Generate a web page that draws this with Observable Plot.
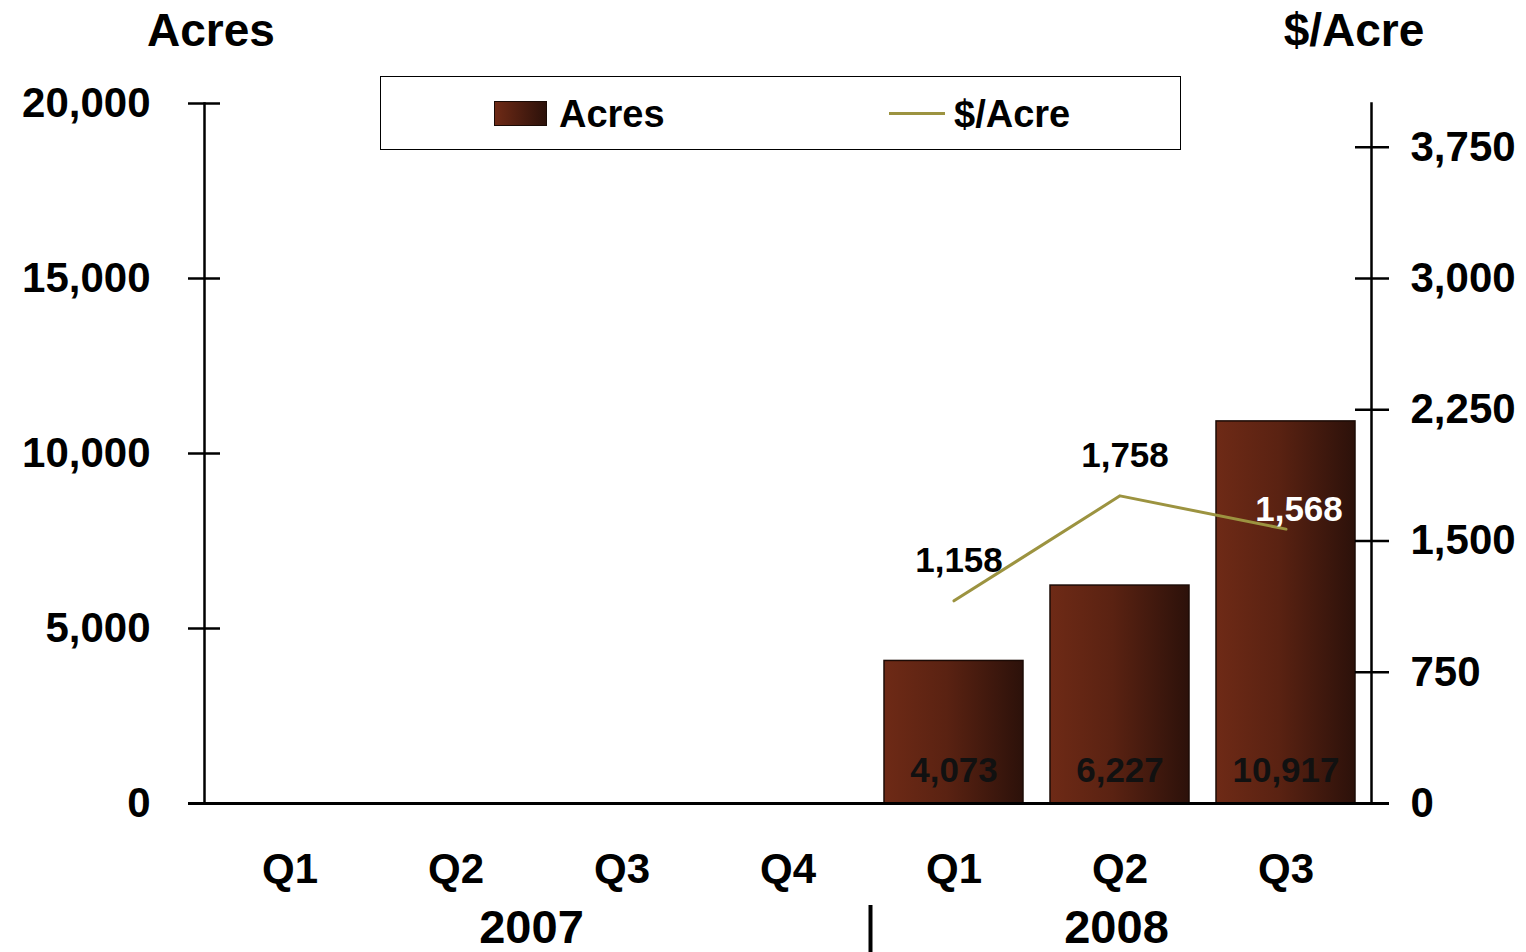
<!DOCTYPE html>
<html><head><meta charset="utf-8">
<script src="https://cdn.jsdelivr.net/npm/d3@7"></script>
<script src="https://cdn.jsdelivr.net/npm/@observablehq/plot@0.6"></script>
<style>
html,body{margin:0;padding:0;background:#fff;overflow:hidden;}
#wrap{position:relative;width:1526px;height:952px;font-family:"Liberation Sans",Arial,sans-serif;font-weight:bold;color:#000;}
#wrap svg{position:absolute;left:0;top:0;}
.title{position:absolute;top:7px;width:200px;text-align:center;font-size:46px;line-height:1;}
#legend{position:absolute;left:380px;top:76px;width:801px;height:74px;box-sizing:border-box;border:1.5px solid #000;background:#fff;}
.lg-text{position:absolute;font-size:38px;line-height:1;white-space:nowrap;}
#sw{position:absolute;left:113px;top:24px;width:53px;height:25px;box-sizing:border-box;border:1.5px solid #1a0a05;background:linear-gradient(to right,#6e2a16,#2c110a);}
#ln{position:absolute;left:508px;top:35px;width:56px;height:3px;background:#9c9340;}
</style></head><body>
<div id="wrap">
  <div class="title" style="left:111px">Acres</div>
  <div class="title" style="left:1254px">$/Acre</div>
</div>
<script>
// ---- data ----
const quarters = ["Q1","Q2","Q3","Q4","Q1","Q2","Q3"];
const years = ["2007","2007","2007","2007","2008","2008","2008"];
const acres = [null,null,null,null,4073,6227,10917];
const pricePerAcre = [null,null,null,null,1158,1758,1568];
const leftTicks = [0,5000,10000,15000,20000];
const rightTicks = [0,750,1500,2250,3000,3750];
const leftMax = 20000;
const rightMax = 4000;
const seriesNames = ["Acres","$/Acre"];

const k = leftMax / rightMax;
const fmt = d3.format(",");
const keys = quarters.map((q,i) => years[i] + " " + q);
const rows = keys.map((key,i) => ({key, q: quarters[i], year: years[i], acres: acres[i], price: pricePerAcre[i]}));
const barRows = rows.filter(d => d.acres != null);
const lineRows = rows.filter(d => d.price != null);
const lastKey = lineRows[lineRows.length-1].key;
const uniqYears = Array.from(new Set(years));

const FONT = '"Liberation Sans", Arial, sans-serif';
const LINE_COLOR = "#9c9340";

function yearMark(index, scales, values, dims) {
  const ns = "http://www.w3.org/2000/svg";
  const g = document.createElementNS(ns, "g");
  const x = scales.x, bw = x.bandwidth();
  uniqYears.forEach((yr, j) => {
    const ks = keys.filter(kk => kk.startsWith(yr));
    const first = x(ks[0]) + bw/2, last = x(ks[ks.length-1]) + bw/2;
    const t = document.createElementNS(ns, "text");
    t.setAttribute("x", (first + last)/2 - (j === 0 ? 7 : 3));
    t.setAttribute("y", 943);
    t.setAttribute("text-anchor", "middle");
    t.setAttribute("font-size", 47);
    t.setAttribute("font-weight", "bold");
    t.setAttribute("font-family", FONT);
    t.textContent = yr;
    g.appendChild(t);
    if (j > 0) {
      const prevKs = keys.filter(kk => kk.startsWith(uniqYears[j-1]));
      const bx = (x(prevKs[prevKs.length-1]) + bw + x(ks[0]))/2;
      const r = document.createElementNS(ns, "line");
      r.setAttribute("x1", bx); r.setAttribute("x2", bx);
      r.setAttribute("y1", 905); r.setAttribute("y2", 952);
      r.setAttribute("stroke", "#000"); r.setAttribute("stroke-width", 4);
      g.appendChild(r);
    }
  });
  return g;
}

const chart = Plot.plot({
  width: 1526, height: 952,
  marginLeft: 204, marginRight: 155, marginTop: 103, marginBottom: 149,
  style: {fontFamily: FONT, fontWeight: "bold", background: "transparent", overflow: "visible"},
  x: {type: "band", domain: keys, paddingInner: 0.16, paddingOuter: 0.08, axis: null},
  y: {domain: [0, leftMax], axis: null},
  marks: [
    Plot.barY(barRows, {x: "key", y: "acres", fill: "url(#barGrad)", stroke: "#1c0b06", strokeWidth: 1.5}),
    Plot.frame({anchor: "left", strokeWidth: 2.5}),
    Plot.frame({anchor: "right", strokeWidth: 2.5}),
    Plot.ruleY([0], {strokeWidth: 3, insetLeft: -16, insetRight: -18}),
    Plot.axisY({ticks: leftTicks, anchor: "left", tickSize: 32, dx: 16, fill: "none", strokeWidth: 2.5, label: null}),
    Plot.axisY({ticks: leftTicks, anchor: "left", tickSize: 0, tickPadding: 54, fontSize: 42, tickFormat: fmt, stroke: "none", label: null}),
    Plot.axisY({ticks: rightTicks.map(v => v*k), anchor: "right", tickSize: 34, dx: -17, fill: "none", strokeWidth: 2.5, label: null}),
    Plot.axisY({ticks: rightTicks.map(v => v*k), anchor: "right", tickSize: 0, tickPadding: 39, fontSize: 42, tickFormat: d => fmt(Math.round(d/k)), stroke: "none", label: null}),
    Plot.axisX({anchor: "bottom", tickSize: 0, tickPadding: 50, fontSize: 42, tickFormat: d => d.split(" ")[1], label: null}),
    Plot.line(lineRows, {x: "key", y: d => d.price*k, stroke: LINE_COLOR, strokeWidth: 3}),
    Plot.text(barRows, {x: "key", y: 0, text: d => fmt(d.acres), dy: -33, fontSize: 35, fill: "#111"}),
    Plot.text(lineRows.filter(d => d.key !== lastKey), {x: "key", y: d => d.price*k, text: d => fmt(d.price), dx: 5, dy: -40, fontSize: 35, fill: "#000"}),
    Plot.text(lineRows.filter(d => d.key === lastKey), {x: "key", y: d => d.price*k, text: d => fmt(d.price), dx: 13, dy: -19, fontSize: 35, fill: "#fff"}),
    yearMark
  ]
});

const ns = "http://www.w3.org/2000/svg";
const defs = document.createElementNS(ns, "defs");
defs.innerHTML = '<linearGradient id="barGrad" x1="0" x2="1" y1="0" y2="0"><stop offset="0" stop-color="#6e2a16"/><stop offset="0.45" stop-color="#5a2212"/><stop offset="1" stop-color="#2c110a"/></linearGradient>';
chart.insertBefore(defs, chart.firstChild);

const wrap = document.getElementById("wrap");
wrap.insertBefore(chart, wrap.firstChild);

const legend = document.createElement("div");
legend.id = "legend";
legend.innerHTML = '<div id="sw"></div><div class="lg-text" style="left:178px;top:18px">' + seriesNames[0] + '</div>' +
  '<div id="ln"></div><div class="lg-text" style="left:573px;top:18px">' + seriesNames[1] + '</div>';
wrap.appendChild(legend);
</script>
</body></html>
